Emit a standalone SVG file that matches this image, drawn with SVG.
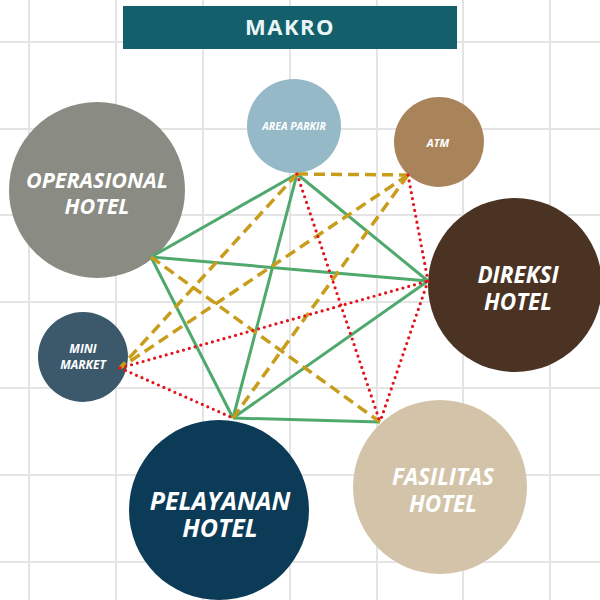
<svg xmlns="http://www.w3.org/2000/svg" width="600" height="600" viewBox="0 0 600 600">
<style>
.grid line{stroke:#e4e4e4;stroke-width:2}
.g{stroke:#4fa96c;stroke-width:3;fill:none}
.y{stroke:#c99d1c;stroke-width:3.5;stroke-dasharray:11 6;fill:none}
.r{stroke:#e3141c;stroke-width:3.2;stroke-dasharray:0 6;stroke-linecap:round;fill:none}
.lbl{font-family:"Open Sans","Noto Sans","DejaVu Sans",sans-serif;font-weight:bold;font-style:italic;fill:#ffffff;text-anchor:middle}
</style>
<rect width="600" height="600" fill="#ffffff"/>
<g class="grid">
<line x1="29" y1="0" x2="29" y2="600"/><line x1="116" y1="0" x2="116" y2="600"/><line x1="203" y1="0" x2="203" y2="600"/><line x1="290" y1="0" x2="290" y2="600"/><line x1="377" y1="0" x2="377" y2="600"/><line x1="463" y1="0" x2="463" y2="600"/><line x1="550" y1="0" x2="550" y2="600"/>
<line x1="0" y1="42" x2="600" y2="42"/><line x1="0" y1="129" x2="600" y2="129"/><line x1="0" y1="215" x2="600" y2="215"/><line x1="0" y1="302" x2="600" y2="302"/><line x1="0" y1="388" x2="600" y2="388"/><line x1="0" y1="475" x2="600" y2="475"/><line x1="0" y1="562" x2="600" y2="562"/>
</g>
<g id="title">
<rect x="123" y="6" width="334" height="43" fill="#135f6b"/>
<text x="290" y="35" font-family="'Open Sans','Noto Sans',sans-serif" font-weight="bold" font-size="22" letter-spacing="1.5" fill="#eaf6f6" text-anchor="middle">MAKRO</text>
</g>
<g id="n-operasional"><circle cx="97" cy="190" r="88" fill="#8a8b82"/><text class="lbl" font-size="21.5" x="97" y="188">OPERASIONAL</text><text class="lbl" font-size="21.5" x="97" y="214">HOTEL</text></g>
<g id="n-parkir"><circle cx="294" cy="126" r="47" fill="#95b9c7"/><text class="lbl" font-size="10.5" x="294" y="130">AREA PARKIR</text></g>
<g id="n-atm"><circle cx="439" cy="142" r="45" fill="#a9845a"/><text class="lbl" font-size="11" x="438" y="147">ATM</text></g>
<g id="n-direksi"><circle cx="515" cy="285" r="87" fill="#4a3323"/><text class="lbl" font-size="22.5" x="518" y="283">DIREKSI</text><text class="lbl" font-size="22.5" x="518" y="310">HOTEL</text></g>
<g id="n-minimarket"><circle cx="83" cy="357" r="45" fill="#3c596b"/><text class="lbl" font-size="12" x="83" y="353">MINI</text><text class="lbl" font-size="12" x="83" y="369">MARKET</text></g>
<g id="n-pelayanan"><circle cx="219" cy="510" r="90" fill="#0b3b56"/><text class="lbl" font-size="25" x="220" y="510">PELAYANAN</text><text class="lbl" font-size="25" x="220" y="537">HOTEL</text></g>
<g id="n-fasilitas"><circle cx="440" cy="487" r="87" fill="#d3c4a9"/><text class="lbl" font-size="22.5" x="443" y="485">FASILITAS</text><text class="lbl" font-size="22.5" x="443" y="512">HOTEL</text></g>
<g id="connectors">
<line class="g" x1="297" y1="174" x2="151" y2="257"/>
<line class="g" x1="297" y1="174" x2="428" y2="281"/>
<line class="g" x1="297" y1="174" x2="233" y2="418"/>
<line class="g" x1="151" y1="257" x2="428" y2="281"/>
<line class="g" x1="151" y1="257" x2="233" y2="418"/>
<line class="g" x1="233" y1="418" x2="428" y2="281"/>
<line class="g" x1="233" y1="418" x2="380" y2="422"/>
<line class="y" x1="297" y1="174" x2="408" y2="175"/>
<line class="y" x1="297" y1="174" x2="120" y2="368"/>
<line class="y" x1="408" y1="175" x2="120" y2="368"/>
<line class="y" x1="408" y1="175" x2="233" y2="418"/>
<line class="y" x1="151" y1="257" x2="380" y2="422"/>
<line class="r" x1="297" y1="174" x2="380" y2="422"/>
<line class="r" x1="408" y1="175" x2="428" y2="281"/>
<line class="r" x1="428" y1="281" x2="380" y2="422"/>
<line class="r" x1="120" y1="368" x2="428" y2="281"/>
<line class="r" x1="120" y1="368" x2="233" y2="418"/>
</g>
</svg>
